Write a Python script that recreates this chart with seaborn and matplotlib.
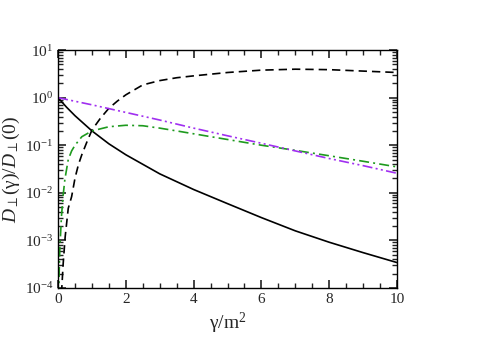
import matplotlib
matplotlib.use("Agg")
import matplotlib.pyplot as plt
import matplotlib.ticker as mticker
import seaborn as sns

# ---- data (x = gamma/m^2, y = D_perp(gamma)/D_perp(0)) ----
x_solid = [0.0, 0.25, 0.5, 1.0, 1.5, 2.0, 3.0, 4.0, 5.0, 6.0, 7.0, 8.0, 9.0, 10.0]
y_solid = [1.0, 0.631, 0.417, 0.20, 0.107, 0.063, 0.025, 0.0117, 0.0059,
           0.0030, 0.00158, 0.00091, 0.00055, 0.00034]

x_dashed = [0.09, 0.11, 0.15, 0.21, 0.3, 0.4, 0.5, 0.6, 0.7, 0.85, 1.0, 1.25,
            1.5, 1.75, 2.0, 2.5, 3.0, 3.5, 4.0, 5.0, 6.0, 7.0, 8.0, 9.0, 10.0]
y_dashed = [4.0e-5, 1.0e-4, 3.2e-4, 1.2e-3, 4.7e-3, 8.3e-3, 0.0204, 0.039,
            0.063, 0.117, 0.209, 0.37, 0.60, 0.85, 1.15, 1.86, 2.29, 2.63,
            2.88, 3.39, 3.80, 3.98, 3.89, 3.63, 3.39]

x_green = [0.02, 0.03, 0.05, 0.1, 0.15, 0.2, 0.3, 0.4, 0.5, 0.7, 1.0, 1.5,
           2.0, 2.5, 3.0, 3.5, 4.0, 5.0, 6.0, 7.0, 8.0, 9.0, 10.0]
y_green = [6.3e-5, 1.8e-4, 6.3e-4, 3.2e-3, 8.9e-3, 0.019, 0.050, 0.076, 0.10,
           0.151, 0.20, 0.245, 0.263, 0.257, 0.229, 0.20, 0.174, 0.132, 0.100,
           0.078, 0.060, 0.046, 0.035]

x_purple = [0.0, 1.0, 2.0, 3.0, 4.0, 5.0, 6.0, 7.0, 8.0, 9.0, 10.0]
y_purple = [1.0, 0.708, 0.49, 0.339, 0.229, 0.158, 0.110, 0.0759, 0.0525,
            0.0372, 0.0257]

x_ticks = [0, 2, 4, 6, 8, 10]

# ---- style: ticks inside on all four sides ----
sns.set_style("ticks", {"xtick.direction": "in", "ytick.direction": "in"})
plt.rcParams["font.family"] = ["Liberation Serif", "DejaVu Serif"]
plt.rcParams["mathtext.fontset"] = "custom"
plt.rcParams["mathtext.rm"] = "Liberation Serif"
plt.rcParams["mathtext.it"] = "Liberation Serif:italic"
plt.rcParams["axes.unicode_minus"] = False

fig = plt.figure(figsize=(4.8, 3.39), dpi=100)
ax = fig.add_axes([0.121, 0.151, 0.706, 0.701])

lw = 1.2
sns.lineplot(x=x_solid, y=y_solid, ax=ax, color="black", lw=lw)
sns.lineplot(x=x_dashed, y=y_dashed, ax=ax, color="black", lw=lw,
             linestyle=(0, (5, 3)))
sns.lineplot(x=x_green, y=y_green, ax=ax, color="#1e9a1e", lw=lw,
             linestyle=(0, (6, 2.5, 1.2, 2.5)))
sns.lineplot(x=x_purple, y=y_purple, ax=ax, color="#a02ff0", lw=lw,
             linestyle=(0, (6, 2, 1.2, 2, 1.2, 2)))

ax.set_yscale("log")
ax.set_xlim(0, 10)
ax.set_ylim(1e-4, 10)
ax.set_xticks(x_ticks)
ax.xaxis.set_minor_locator(mticker.MultipleLocator(0.5))
ax.yaxis.set_major_locator(mticker.LogLocator(base=10, numticks=10))
ax.yaxis.set_minor_locator(mticker.LogLocator(base=10, subs=[2, 3, 4, 5, 6, 7, 8, 9],
                                              numticks=10))
ax.yaxis.set_minor_formatter(mticker.NullFormatter())

ax.tick_params(which="both", top=True, right=True, labelsize=11, color="#222222")
ax.tick_params(which="major", length=6, width=1.2)
ax.tick_params(which="minor", length=3.5, width=1.0)
for s in ax.spines.values():
    s.set_linewidth(1.0)
    s.set_color("black")

ax.set_xlabel(r"$\mathrm{\gamma/m^2}$", fontsize=14, labelpad=4)
ax.set_ylabel(r"$\mathit{D}_{\perp}(\mathrm{\gamma})/\mathit{D}_{\perp}(0)$",
              fontsize=14, labelpad=2)

fig.savefig("out.png", dpi=100)
